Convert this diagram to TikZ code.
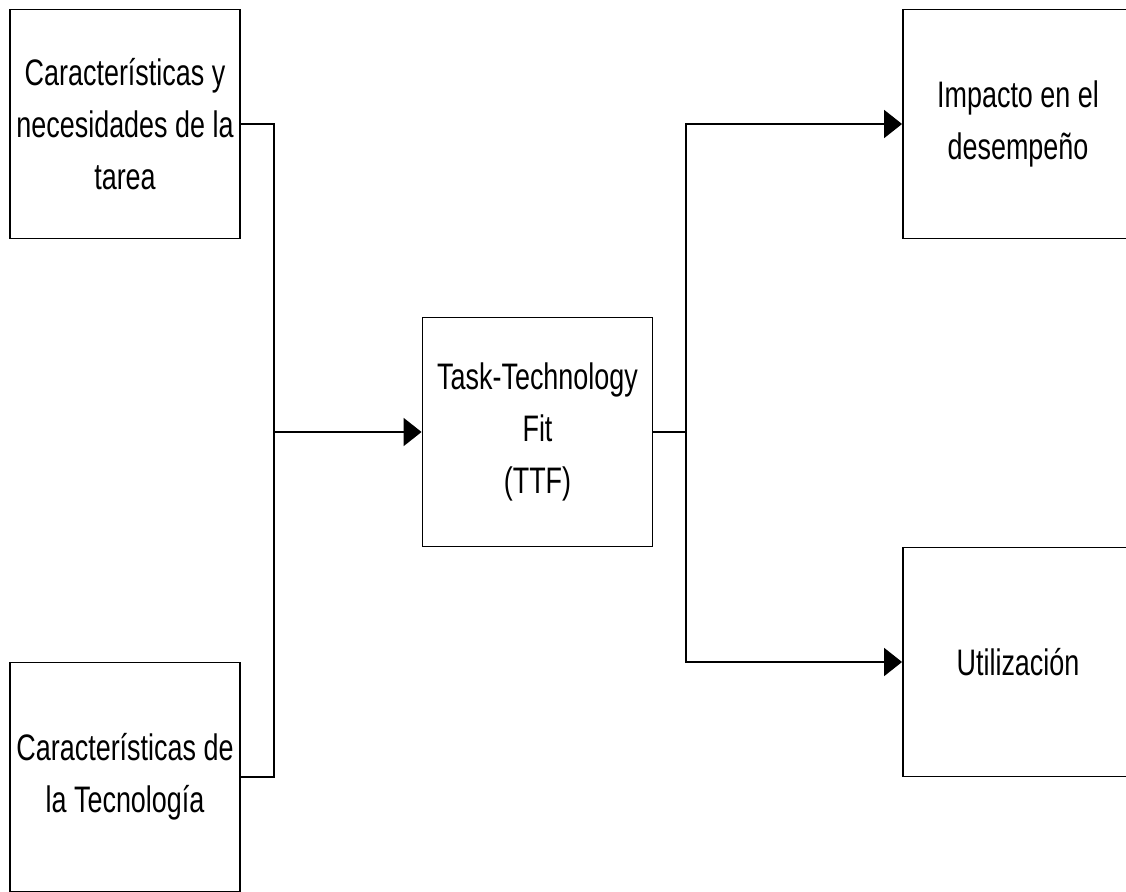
\documentclass[tikz,border=0pt]{standalone}
\usepackage{fontspec}
\setmainfont{Liberation Sans}
\newfontfamily\narrowsans[FakeStretch=0.73]{Liberation Sans}
\usetikzlibrary{arrows.meta}
\usetikzlibrary{positioning}

\begin{document}
\begin{tikzpicture}[x=0.02cm, y=-0.02cm,
	box/.style={draw=black, line width=1.1pt, fill=white, minimum width=4.6cm, minimum height=4.58cm,
		align=center, inner sep=0pt, font=\narrowsans\fontsize{21}{29.5}\selectfont},
	link/.style={line width=1.1pt},
	arrowlink/.style={link, -{Triangle[length=0.36cm, width=0.56cm]}}]

	\useasboundingbox (0,0) rectangle (1126,892);
	\clip (0,0) rectangle (1126,892);

	% left column
	\node[box] (task) at (125,124) {Características y\\necesidades de la\\tarea};
	\node[box] (tech) at (125,777) {Características de\\la Tecnología};

	% centre
	\node[box] (ttf) at (537.5,432) {Task-Technology\\Fit\\(TTF)};

	% right column
	\node[box] (impact) at (1018,124) {Impacto en el\\desempeño};
	\node[box] (util) at (1018,662) {Utilización};

	\coordinate (jl) at (274,432);
	\coordinate (jr) at (686,432);

	\draw[link] (task.east) -| (jl);
	\draw[link] (tech.east) -| (jl);
	\draw[arrowlink] (jl) -- (ttf.west);

	\draw[link] (ttf.east) -- (jr);
	\draw[arrowlink] (jr) |- (impact.west);
	\draw[arrowlink] (jr) |- (util.west);
\end{tikzpicture}
\end{document}
